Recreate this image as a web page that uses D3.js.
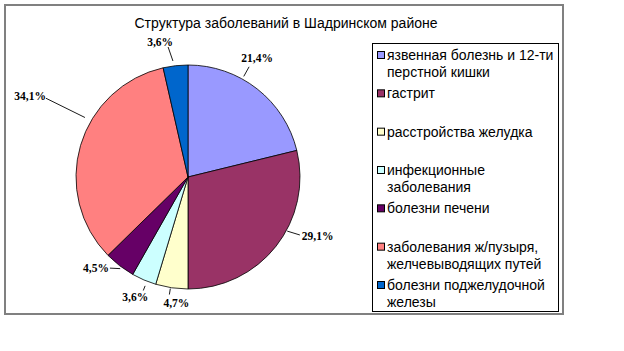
<!DOCTYPE html>
<html><head><meta charset="utf-8">
<script src="https://cdn.jsdelivr.net/npm/d3@7"></script>
<style>body{margin:0;background:#fff}svg{display:block}</style>
</head><body><svg id="c" width="624" height="351"></svg>
<script>
const title = "Структура заболеваний в Шадринском районе";
const categories = [
  ["язвенная болезнь и 12-ти", "перстной кишки"],
  ["гастрит"],
  ["расстройства желудка"],
  ["инфекционные", "заболевания"],
  ["болезни печени"],
  ["заболевания ж/пузыря,", "желчевыводящих путей"],
  ["болезни поджелудочной", "железы"]
];
const values = [21.4, 29.1, 4.7, 3.6, 4.5, 34.1, 3.6];
const valueLabels = ["21,4%", "29,1%", "4,7%", "3,6%", "4,5%", "34,1%", "3,6%"];
const colors = ["#9999FF", "#993366", "#FFFFCC", "#CCFFFF", "#660066", "#FF8080", "#0066CC"];
// label layout: leader start angle/radius, end angle/radius, text offset, anchor
const labelLayout = [
  {a0: 29, r0: 115, a1: 29, r1: 126, dx: 8, dy: -5, anchor: "middle"},
  {a0: 118.6, r0: 113, a1: 117.4, r1: 126, dx: 2, dy: 5, anchor: "start"},
  {a0: 189, r0: 113, a1: 189, r1: 119, dx: 7, dy: 12, anchor: "middle"},
  {a0: 201.5, r0: 117, a1: 201.5, r1: 122, dx: -8, dy: 10, anchor: "middle"},
  {a0: 216.5, r0: 114, a1: 220.6, r1: 120, dx: -1, dy: 4, anchor: "end"},
  {a0: 300, r0: 119, a1: 299, r1: 162.5, dx: 0, dy: 2, anchor: "end"},
  {a0: 352.6, r0: 117, a1: 351.3, r1: 131.5, dx: -8, dy: -1, anchor: "middle"}
];

const svg = d3.select("#c");
// outer chart border
svg.append("rect").attr("x", 5).attr("y", 5).attr("width", 558).attr("height", 309)
  .attr("fill", "#fff").attr("stroke", "#808080").attr("stroke-width", 2);

svg.append("text").attr("x", 286).attr("y", 28).attr("text-anchor", "middle")
  .attr("font-family", "Liberation Sans, Arial, sans-serif").attr("font-size", 14)
  .attr("fill", "#000").text(title);

const cx = 188, cy = 177, R = 112;
const pie = d3.pie().value(d => d).sort(null);
const arcs = pie(values);
const arc = d3.arc().innerRadius(0).outerRadius(R);
const g = svg.append("g").attr("transform", `translate(${cx},${cy})`);
g.selectAll("path").data(arcs).join("path")
  .attr("d", arc).attr("fill", (d, i) => colors[i])
  .attr("stroke", "#000").attr("stroke-width", 0.8);

const pt = (a, r) => [r * Math.sin(a * Math.PI / 180), -r * Math.cos(a * Math.PI / 180)];
labelLayout.forEach((L, i) => {
  const p0 = pt(L.a0, L.r0), p1 = pt(L.a1, L.r1);
  g.append("line").attr("x1", p0[0]).attr("y1", p0[1]).attr("x2", p1[0]).attr("y2", p1[1])
    .attr("stroke", "#000").attr("stroke-width", 0.9);
  g.append("text").attr("x", p1[0] + L.dx).attr("y", p1[1] + L.dy)
    .attr("text-anchor", L.anchor)
    .attr("font-family", "Liberation Serif, Times New Roman, serif")
    .attr("font-weight", "bold").attr("font-size", 11.5).attr("fill", "#000")
    .text(valueLabels[i]);
});

// legend
const lg = svg.append("g");
lg.append("rect").attr("x", 372.5).attr("y", 43.5).attr("width", 186).attr("height", 268)
  .attr("fill", "#fff").attr("stroke", "#000").attr("stroke-width", 1);
const ly = d3.scalePoint().domain(d3.range(categories.length)).range([55, 285]);
categories.forEach((lines, i) => {
  const y = ly(i);
  lg.append("rect").attr("x", 377.5).attr("y", y - 3.5).attr("width", 7).attr("height", 7)
    .attr("fill", colors[i]).attr("stroke", "#000").attr("stroke-width", 1);
  lines.forEach((t, j) => {
    lg.append("text").attr("x", 387).attr("y", y + 5 + j * 17)
      .attr("font-family", "Liberation Sans, Arial, sans-serif").attr("font-size", 14)
      .attr("fill", "#000").text(t);
  });
});
</script></body></html>
